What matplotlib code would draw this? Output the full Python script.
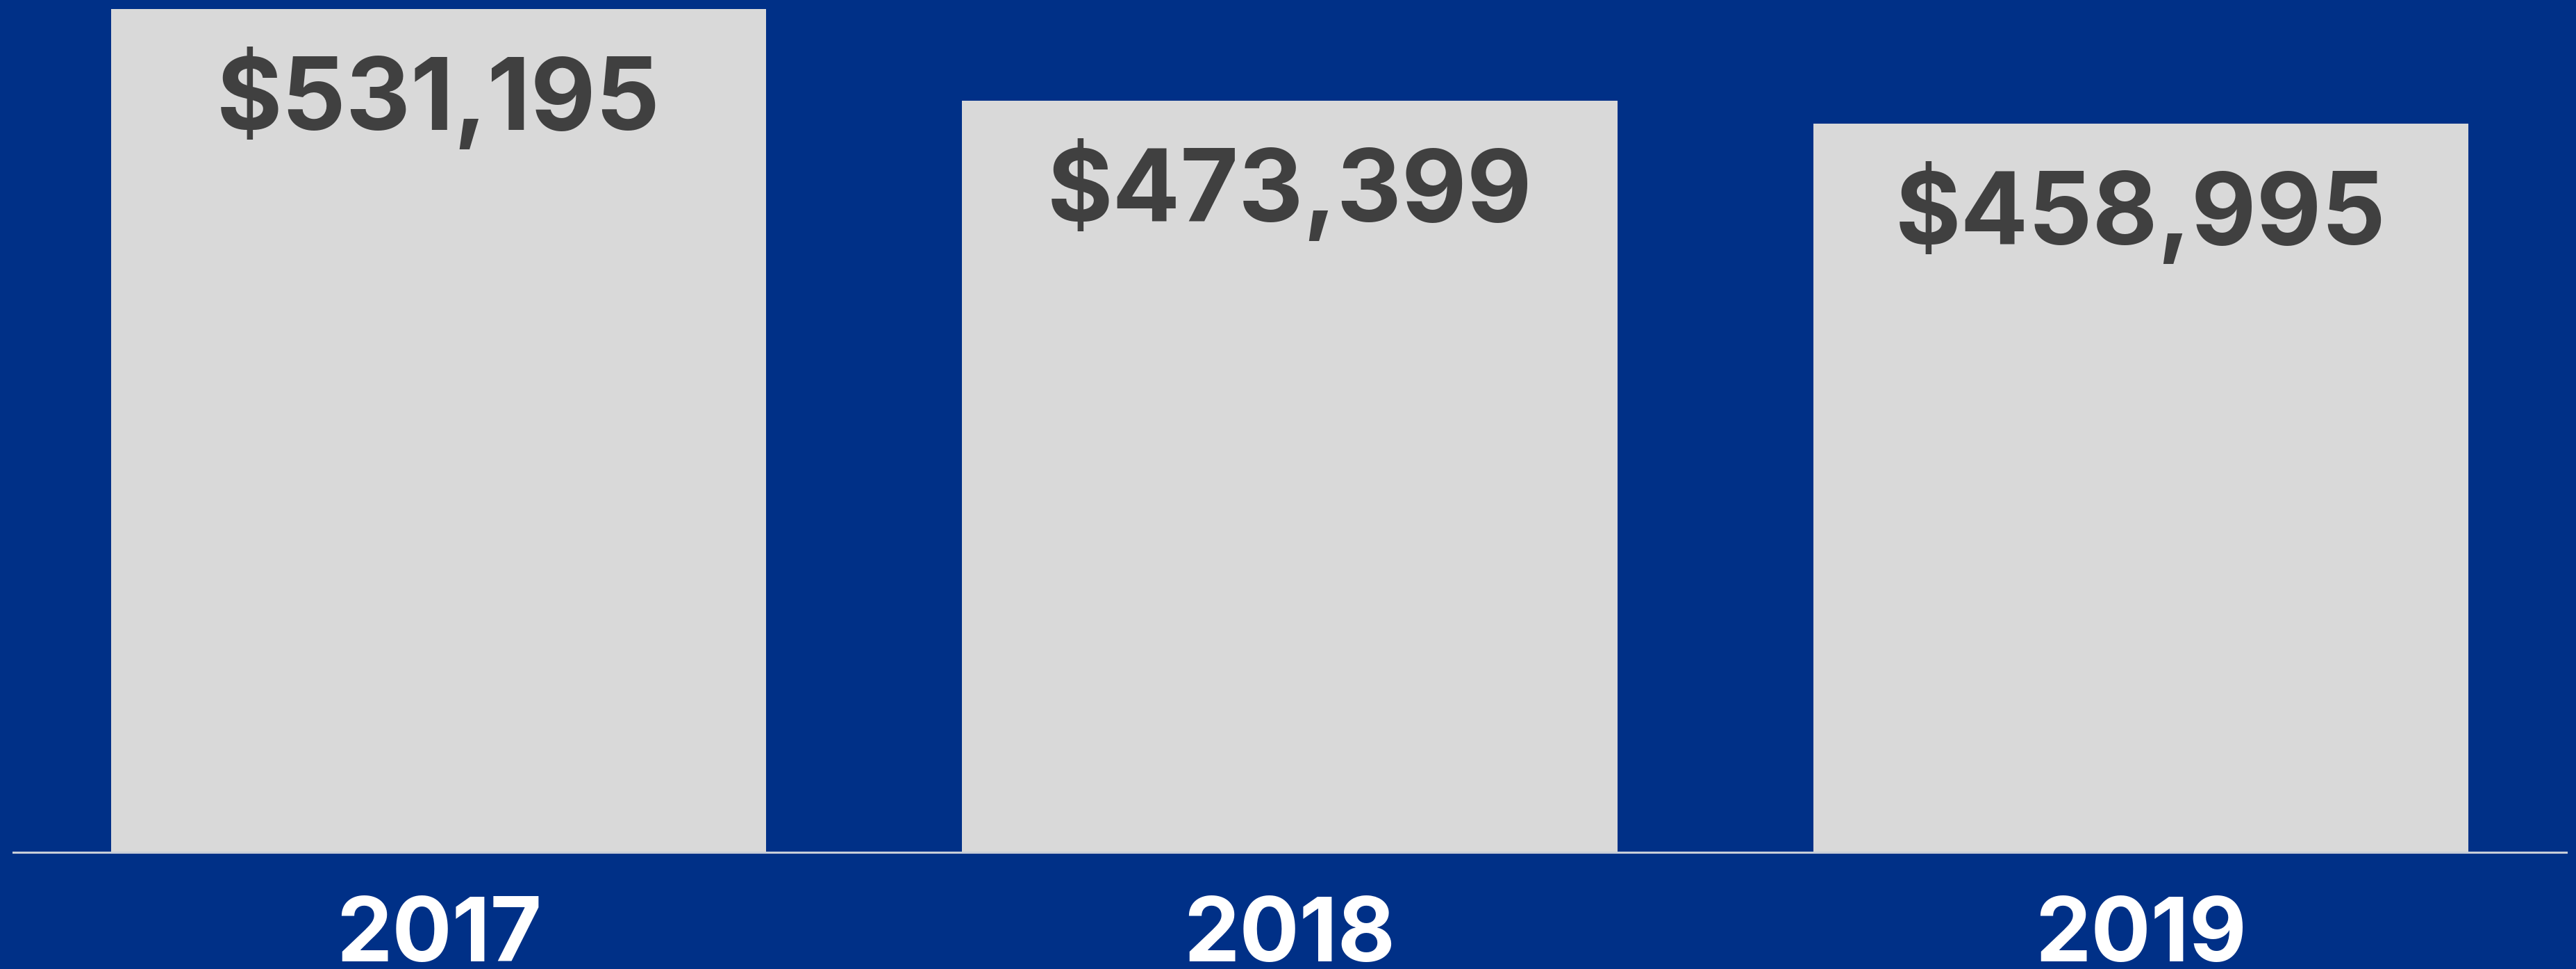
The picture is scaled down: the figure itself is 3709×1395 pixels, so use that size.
import matplotlib.pyplot as plt

# data
years = ["2017", "2018", "2019"]
amounts = [531195, 473399, 458995]

bg_blue = "#003087"
bar_grey = "#d9d9d9"
label_grey = "#404040"

fig = plt.figure(figsize=(37.09, 13.95), dpi=100)
fig.patch.set_facecolor(bg_blue)

ax = fig.add_axes([19 / 3709, 168 / 1395, 3676 / 3709, 1227 / 1395])
ax.set_facecolor(bg_blue)

x = range(len(years))
ax.bar(x, amounts, width=0.77, color=bar_grey, zorder=2)

ax.set_xlim(-0.5, 2.5)
ax.set_ylim(0, 537000)

for i, val in zip(x, amounts):
    ax.annotate("${:,}".format(val), xy=(i, val), xytext=(0, -40),
                textcoords="offset points", ha="center", va="top",
                fontsize=104, fontweight="bold", color=label_grey,
                family="Inter")

ax.set_xticks(list(x))
ax.set_xticklabels(years, fontsize=92, fontweight="bold", color="white",
                   family="Inter")
ax.tick_params(axis="x", length=0, pad=46)
ax.set_yticks([])

for side in ["top", "left", "right"]:
    ax.spines[side].set_visible(False)
ax.spines["bottom"].set_color("#c8cdd8")
ax.spines["bottom"].set_linewidth(2.2)
ax.spines["bottom"].set_zorder(3)

fig.savefig("out.png", dpi=100, facecolor=bg_blue)
